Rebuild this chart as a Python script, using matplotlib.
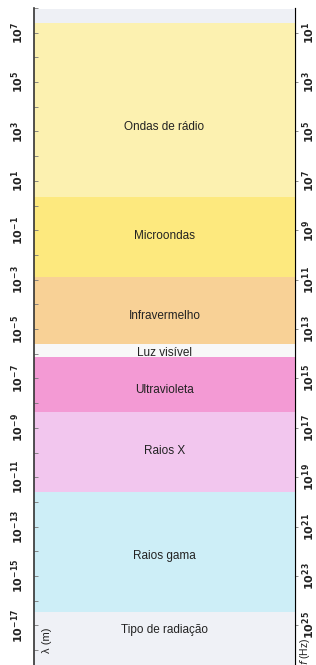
import matplotlib.pyplot as plt

plt.rcParams['font.family'] = ['Liberation Sans', 'DejaVu Sans']

# band limits as log10(wavelength / m), from top to bottom
band_names = ["", "Ondas de rádio", "Microondas", "Infravermelho", "Luz visível",
              "Ultravioleta", "Raios X", "Raios gama", "Tipo de radiação"]
band_top = [7.97, 7.40, 0.33, -2.91, -5.61, -6.14, -8.36, -11.60, -16.45]
band_bottom = [7.40, 0.33, -2.91, -5.61, -6.14, -8.36, -11.60, -16.45, -18.60]
band_colors = ["#eef0f5", "#fcf1b0", "#fde97e", "#f8d196", "#f8f8f8",
               "#f39ad4", "#f2c6ee", "#cdeef7", "#eff1f6"]
label_pos = [None, 3.2, -1.25, -4.45, -5.95, -7.45, -9.95, -14.2, -17.2]

lam_ticks = list(range(7, -18, -2))

fig = plt.figure(figsize=(3.16, 6.65), dpi=100)
ax = fig.add_axes([34 / 316, 0, (295 - 34) / 316, 1 - 8 / 665])

for top, bot, col in zip(band_top, band_bottom, band_colors):
    ax.axhspan(bot, top, color=col, lw=0)
for name, y in zip(band_names, label_pos):
    if name:
        ax.text(0.5, y, name, transform=ax.get_yaxis_transform(),
                ha="center", va="center", fontsize=8.5, color="#222222")

ax.set_ylim(band_bottom[-1], band_top[0])
ax.set_xlim(0, 1)
ax.set_xticks([])
ax.set_yticks(lam_ticks)
ax.set_yticklabels([f"$\\mathbf{{10^{{{e}}}}}$" for e in lam_ticks], rotation=90,
                   va="center", fontsize=8)
ax.set_yticks(range(8, -19, -1), minor=True)
ax.tick_params(axis="y", which="both", direction="in", length=3,
               width=0.6, colors="#777777", labelcolor="#222222", pad=6)
ax.spines["top"].set_visible(False)
ax.spines["bottom"].set_visible(False)
ax.spines["left"].set_color("#333333")
ax.spines["left"].set_linewidth(1.2)

# frequency axis, f = 1e8 / lambda in the original drawing
sec = ax.secondary_yaxis("right", functions=(lambda e: 8 - e, lambda e: 8 - e))
freq_ticks = [8 - e for e in lam_ticks]
sec.set_yticks(freq_ticks)
sec.set_yticklabels([f"$\\mathbf{{10^{{{e}}}}}$" for e in freq_ticks], rotation=90,
                    va="center", fontsize=8)
sec.tick_params(axis="y", direction="inout", length=4, width=0.6,
                colors="#777777", labelcolor="#222222", pad=2)
sec.spines["right"].set_color("#333333")

ax.text(0.05, -17.6, "λ (m)", rotation=90, ha="center", va="center", fontsize=8,
        transform=ax.get_yaxis_transform(), color="#222222")
ax.text(1.04, -18.6, "$f$ (Hz)", rotation=90, ha="center", va="bottom", fontsize=7.5,
        transform=ax.get_yaxis_transform(), color="#222222", clip_on=False)

fig.savefig("out.png", dpi=100)
